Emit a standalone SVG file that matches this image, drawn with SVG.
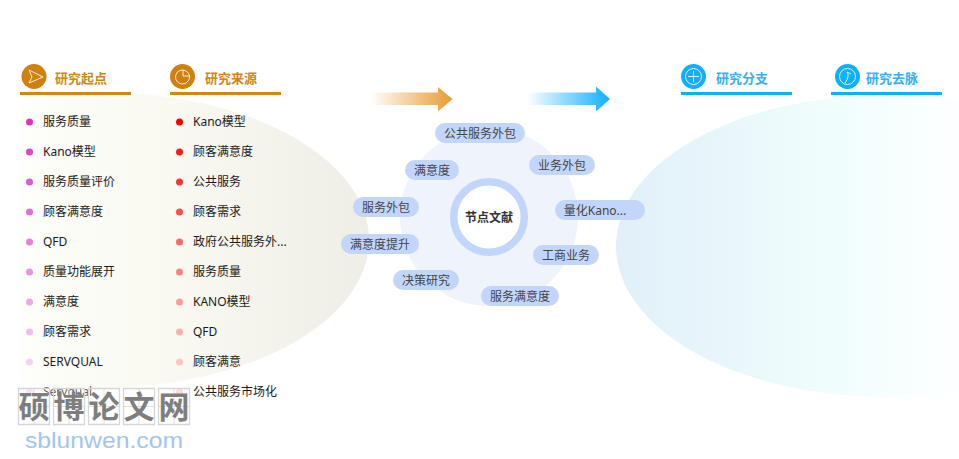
<svg xmlns="http://www.w3.org/2000/svg" width="959" height="459" viewBox="0 0 959 459">
<style>
text{font-family:"Noto Sans","Noto Sans CJK SC",sans-serif}
.h{font-size:13px;font-weight:bold}
.o{fill:#d0851a}.b{fill:#38aefc}
.t{font-size:12px;fill:#1a1a1a}
.p{fill:#c2d6fb}
.l{font-size:12px;fill:#444;text-anchor:middle}
.ic{fill:none;stroke:#fff;stroke-width:1;opacity:.85}
.w{font-size:31px;font-weight:bold;fill:#7e7e7e;text-anchor:middle}
</style>
<defs>
<linearGradient id="g1" gradientUnits="userSpaceOnUse" x1="20" y1="0" x2="369" y2="0"><stop offset="0" stop-color="#fefefa"/><stop offset=".45" stop-color="#f9f9f1"/><stop offset="1" stop-color="#eeede6"/></linearGradient>
<linearGradient id="g2" gradientUnits="userSpaceOnUse" x1="616" y1="0" x2="959" y2="0"><stop offset="0" stop-color="#e1eff9"/><stop offset=".6" stop-color="#effdfd"/><stop offset="1" stop-color="#fdffff"/></linearGradient>
<linearGradient id="a1" gradientUnits="userSpaceOnUse" x1="370" y1="0" x2="452" y2="0"><stop offset="0" stop-color="#e79c33" stop-opacity="0"/><stop offset="1" stop-color="#e79c33"/></linearGradient>
<linearGradient id="a2" gradientUnits="userSpaceOnUse" x1="527" y1="0" x2="610" y2="0"><stop offset="0" stop-color="#0cb0ff" stop-opacity="0"/><stop offset="1" stop-color="#0cb0ff"/></linearGradient>
<clipPath id="c1"><rect x="20" y="80" width="360" height="320"/></clipPath>
</defs>
<ellipse cx="99" cy="240" rx="270" ry="148" fill="url(#g1)" clip-path="url(#c1)"/>
<ellipse cx="886" cy="246" rx="270" ry="151" fill="url(#g2)"/>
<rect x="20" y="92" width="111" height="3" fill="#d58512"/>
<rect x="170" y="92" width="111" height="3" fill="#d58512"/>
<rect x="681" y="92" width="111" height="3" fill="#0cb0ff"/>
<rect x="831" y="92" width="111" height="3" fill="#0cb0ff"/>
<g id="head1"><circle cx="34" cy="76.500" r="12.500" fill="#d0800f"/><path class="ic" d="M29 70L43 77L29 83L32 77Z"/><text class="h o" x="55" y="83">研究起点</text></g>
<g id="head2"><circle cx="182.500" cy="76.500" r="12.500" fill="#d0800f"/><circle class="ic" cx="182.500" cy="77" r="7"/><path class="ic" d="M183 70V76H190"/><text class="h o" x="205" y="83">研究来源</text></g>
<g id="head3"><circle cx="693.500" cy="76.500" r="12.500" fill="#0cb0ff"/><circle class="ic" cx="693.500" cy="76.500" r="8"/><path class="ic" d="M688 76.500H699M693.500 71V82"/><text class="h b" x="716" y="83">研究分支</text></g>
<g id="head4"><circle cx="847.500" cy="76.500" r="12.500" fill="#0cb0ff"/><circle class="ic" cx="847.500" cy="76.500" r="8"/><path class="ic" d="M845 83Q850 76 847 72L851 74"/><text class="h b" x="866" y="83">研究去脉</text></g>
<g id="connectors">
<path d="M370 92.500H438V87L452.500 99L438 111.500V105H370Z" fill="url(#a1)"/>
<path d="M527 92.500H596V86.500L610 99L596 111.500V105H527Z" fill="url(#a2)"/>
</g>
<g id="list1">
<circle cx="29.500" cy="122" r="3.500" fill="#d936c4"/><text class="t" x="43" y="126">服务质量</text>
<circle cx="29.500" cy="152" r="3.500" fill="#dc48ca"/><text class="t" x="43" y="156">Kano模型</text>
<circle cx="29.500" cy="182" r="3.500" fill="#e05bcf"/><text class="t" x="43" y="186">服务质量评价</text>
<circle cx="29.500" cy="212" r="3.500" fill="#e46ed4"/><text class="t" x="43" y="216">顾客满意度</text>
<circle cx="29.500" cy="242" r="3.500" fill="#e681d9"/><text class="t" x="43" y="246">QFD</text>
<circle cx="29.500" cy="272" r="3.500" fill="#ea94df"/><text class="t" x="43" y="276">质量功能展开</text>
<circle cx="29.500" cy="302" r="3.500" fill="#eea8e5"/><text class="t" x="43" y="306">满意度</text>
<circle cx="29.500" cy="332" r="3.500" fill="#f2bcec"/><text class="t" x="43" y="336">顾客需求</text>
<circle cx="29.500" cy="362" r="3.500" fill="#f6d2f2"/><text class="t" x="43" y="366">SERVQUAL</text>
<circle cx="29.500" cy="392" r="3.500" fill="#f9e2f6"/><text class="t" x="43" y="396" fill-opacity=".75">Servqual</text>
</g>
<g id="list2">
<circle cx="179.500" cy="122" r="3.500" fill="#ff0000"/><text class="t" x="193" y="126">Kano模型</text>
<circle cx="179.500" cy="152" r="3.500" fill="#ff1a1a"/><text class="t" x="193" y="156">顾客满意度</text>
<circle cx="179.500" cy="182" r="3.500" fill="#ff3333"/><text class="t" x="193" y="186">公共服务</text>
<circle cx="179.500" cy="212" r="3.500" fill="#ff4d4d"/><text class="t" x="193" y="216">顾客需求</text>
<circle cx="179.500" cy="242" r="3.500" fill="#ff6666"/><text class="t" x="193" y="246">政府公共服务外...</text>
<circle cx="179.500" cy="272" r="3.500" fill="#ff8080"/><text class="t" x="193" y="276">服务质量</text>
<circle cx="179.500" cy="302" r="3.500" fill="#ff9999"/><text class="t" x="193" y="306">KANO模型</text>
<circle cx="179.500" cy="332" r="3.500" fill="#ffb0aa"/><text class="t" x="193" y="336">QFD</text>
<circle cx="179.500" cy="362" r="3.500" fill="#ffc6c0"/><text class="t" x="193" y="366">顾客满意</text>
<circle cx="179.500" cy="392" r="3.500" fill="#ffdcd8"/><text class="t" x="193" y="396">公共服务市场化</text>
</g>
<circle cx="489" cy="217" r="89" fill="#eef3fc"/>
<g id="center"><circle cx="489" cy="217" r="35.300" fill="#fff" stroke="#c2d6fb" stroke-width="7.500"/><text x="489" y="222" font-size="12" font-weight="bold" fill="#333" text-anchor="middle">节点文献</text></g>
<g id="n1"><rect class="p" x="435" y="123" width="90" height="20" rx="10"/><text class="l" x="480" y="138">公共服务外包</text></g>
<g id="n2"><rect class="p" x="405" y="160" width="54" height="20" rx="10"/><text class="l" x="432" y="175">满意度</text></g>
<g id="n3"><rect class="p" x="529" y="155" width="66" height="20" rx="10"/><text class="l" x="562" y="170">业务外包</text></g>
<g id="n4"><rect class="p" x="353" y="197" width="66" height="20" rx="10"/><text class="l" x="386" y="212">服务外包</text></g>
<g id="n5"><rect class="p" x="555" y="200" width="90" height="20" rx="10"/><text class="l" x="595" y="215">量化Kano...</text></g>
<g id="n6"><rect class="p" x="341" y="234" width="78" height="20" rx="10"/><text class="l" x="380" y="249">满意度提升</text></g>
<g id="n7"><rect class="p" x="533" y="245" width="66" height="20" rx="10"/><text class="l" x="566" y="260">工商业务</text></g>
<g id="n8"><rect class="p" x="393" y="270" width="66" height="20" rx="10"/><text class="l" x="426" y="285">决策研究</text></g>
<g id="n9"><rect class="p" x="481" y="286" width="78" height="20" rx="10"/><text class="l" x="520" y="301">服务满意度</text></g>
<g id="watermark">
<g fill="none" stroke="#d6d6d6"><path stroke-width="1.300" d="M18.500 388.500h31v36h-31zM53.500 388.500h31v36h-31zM88.500 388.500h31v36h-31zM123.500 388.500h31v36h-31zM158.500 388.500h31v36h-31z"/><path stroke-width=".8" d="M34 389v35M69 389v35M104 389v35M139 389v35M174 389v35M19 406.500h30M54 406.500h30M89 406.500h30M124 406.500h30M159 406.500h30"/></g>
<text class="w" x="34" y="418">硕</text><text class="w" x="69" y="418">博</text><text class="w" x="104" y="418">论</text><text class="w" x="139" y="418">文</text><text class="w" x="174" y="418">网</text>
<text x="25" y="448" font-size="22" fill="#a2c5ee" textLength="158" lengthAdjust="spacingAndGlyphs" style="font-family:'Liberation Sans',sans-serif">sblunwen.com</text>
</g>
</svg>
